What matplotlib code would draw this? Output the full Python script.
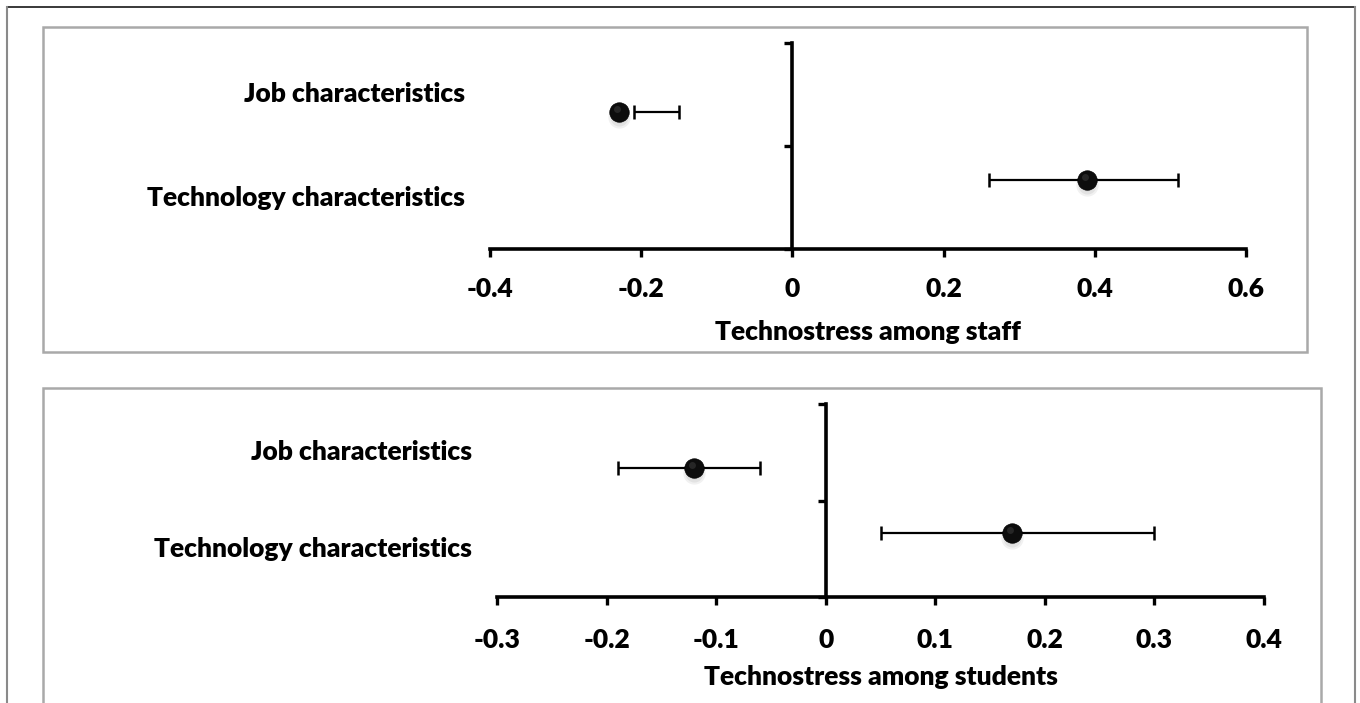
import matplotlib
matplotlib.use("Agg")
import matplotlib.pyplot as plt
import matplotlib.transforms as mtransforms
from matplotlib.patches import Rectangle
from matplotlib.lines import Line2D

# ---------------- data ----------------
categories = ["Job characteristics", "Technology characteristics"]

staff_est = [-0.23, 0.39]
staff_low = [-0.21, 0.26]
staff_high = [-0.15, 0.51]

students_est = [-0.12, 0.17]
students_low = [-0.19, 0.05]
students_high = [-0.06, 0.30]

staff_xticks = [-0.4, -0.2, 0, 0.2, 0.4, 0.6]
students_xticks = [-0.3, -0.2, -0.1, 0, 0.1, 0.2, 0.3, 0.4]

staff_xlabel = "Technostress among staff"
students_xlabel = "Technostress among students"

# ---------------- layout ----------------
plt.rcParams['font.family'] = ['Lato', 'DejaVu Sans']
W, H = 1360, 703
fig = plt.figure(figsize=(W / 100, H / 100), dpi=100)
fig.patch.set_facecolor('white')

FS = 19
FW = 'heavy'


def fx(px):
    return px / W


def fy(py):
    return 1 - py / H


# outer frame
fig.add_artist(Line2D([fx(7), fx(1355)], [fy(7), fy(7)], color='#2a2a2a', lw=1.3))
fig.add_artist(Line2D([fx(7), fx(7)], [fy(7), fy(710)], color='#8a8a8a', lw=1.5))
fig.add_artist(Line2D([fx(1355), fx(1355)], [fy(7), fy(710)], color='#8a8a8a', lw=1.5))

# panel boxes
for (l, t, r, b) in [(43, 27, 1307, 352), (43, 388, 1321, 720)]:
    fig.add_artist(Rectangle((fx(l), fy(b)), fx(r) - fx(l), (b - t) / H,
                             transform=fig.transFigure, fill=False,
                             edgecolor='#a9a9a9', lw=1.8))


def fmt(v):
    return "0" if abs(v) < 1e-12 else f"{v:g}"


def panel(rect_px, xticks, est, low, high, xlabel, tick_pad, xlabel_pad):
    l, t, r, b = rect_px
    ax = fig.add_axes([fx(l), fy(b), fx(r) - fx(l), (b - t) / H])
    ax.set_xlim(xticks[0], xticks[-1])
    ax.set_ylim(0, 2)
    ax.patch.set_alpha(0)
    for s in ['top', 'right']:
        ax.spines[s].set_visible(False)
    ax.spines['left'].set_position(('data', 0))
    for s in ['left', 'bottom']:
        ax.spines[s].set_linewidth(2.6)
        ax.spines[s].set_color('black')
    ax.set_yticks([0, 1, 2])
    ax.set_yticklabels([])
    ax.set_xticks(xticks)
    ax.set_xticklabels([fmt(v) for v in xticks], fontweight=FW)
    ax.tick_params(axis='x', length=6, width=2.4, pad=tick_pad, labelsize=FS,
                   direction='out')
    ax.tick_params(axis='y', length=6, width=2.4, direction='out')
    ax.set_xlabel(xlabel, fontsize=FS, fontweight=FW, labelpad=xlabel_pad)

    ypos = [4 / 3, 2 / 3]
    label_y = [1.5, 0.5]
    for cat, yl in zip(categories, label_y):
        ax.annotate(cat, xy=(0, yl), xycoords=('axes fraction', 'data'),
                    xytext=(-25, 0), textcoords='offset pixels',
                    ha='right', va='center', fontsize=FS, fontweight=FW,
                    annotation_clip=False)

    # error bars
    ax.hlines(ypos, low, high, color='black', lw=1.6, zorder=3)
    ax.plot(low, ypos, ls='none', marker='|', ms=10, mew=1.8, color='black', zorder=3)
    ax.plot(high, ypos, ls='none', marker='|', ms=10, mew=1.8, color='black', zorder=3)

    # soft shadow below markers
    for dy, s, a in [(-5, 16, 0.10), (-5, 13, 0.12), (-4, 10, 0.15)]:
        tr = mtransforms.offset_copy(ax.transData, fig=fig, x=0, y=dy, units='dots')
        ax.plot(est, ypos, ls='none', marker='o', ms=s, color='#777777',
                alpha=a, mew=0, transform=tr, zorder=4)
    ax.plot(est, ypos, ls='none', marker='o', ms=14, color='#0d0d0d',
            mec='#000000', mew=0.5, zorder=5)
    # subtle highlight for a 3D look
    tr = mtransforms.offset_copy(ax.transData, fig=fig, x=-2, y=3, units='dots')
    ax.plot(est, ypos, ls='none', marker='o', ms=5, color='#555555', alpha=0.35,
            mew=0, transform=tr, zorder=6)
    return ax


panel((490, 43, 1246, 249), staff_xticks, staff_est, staff_low, staff_high,
      staff_xlabel, 14, 14)
panel((497, 404, 1264, 597), students_xticks, students_est, students_low,
      students_high, students_xlabel, 16, 10)

fig.savefig("out.png", dpi=100, facecolor='white')
